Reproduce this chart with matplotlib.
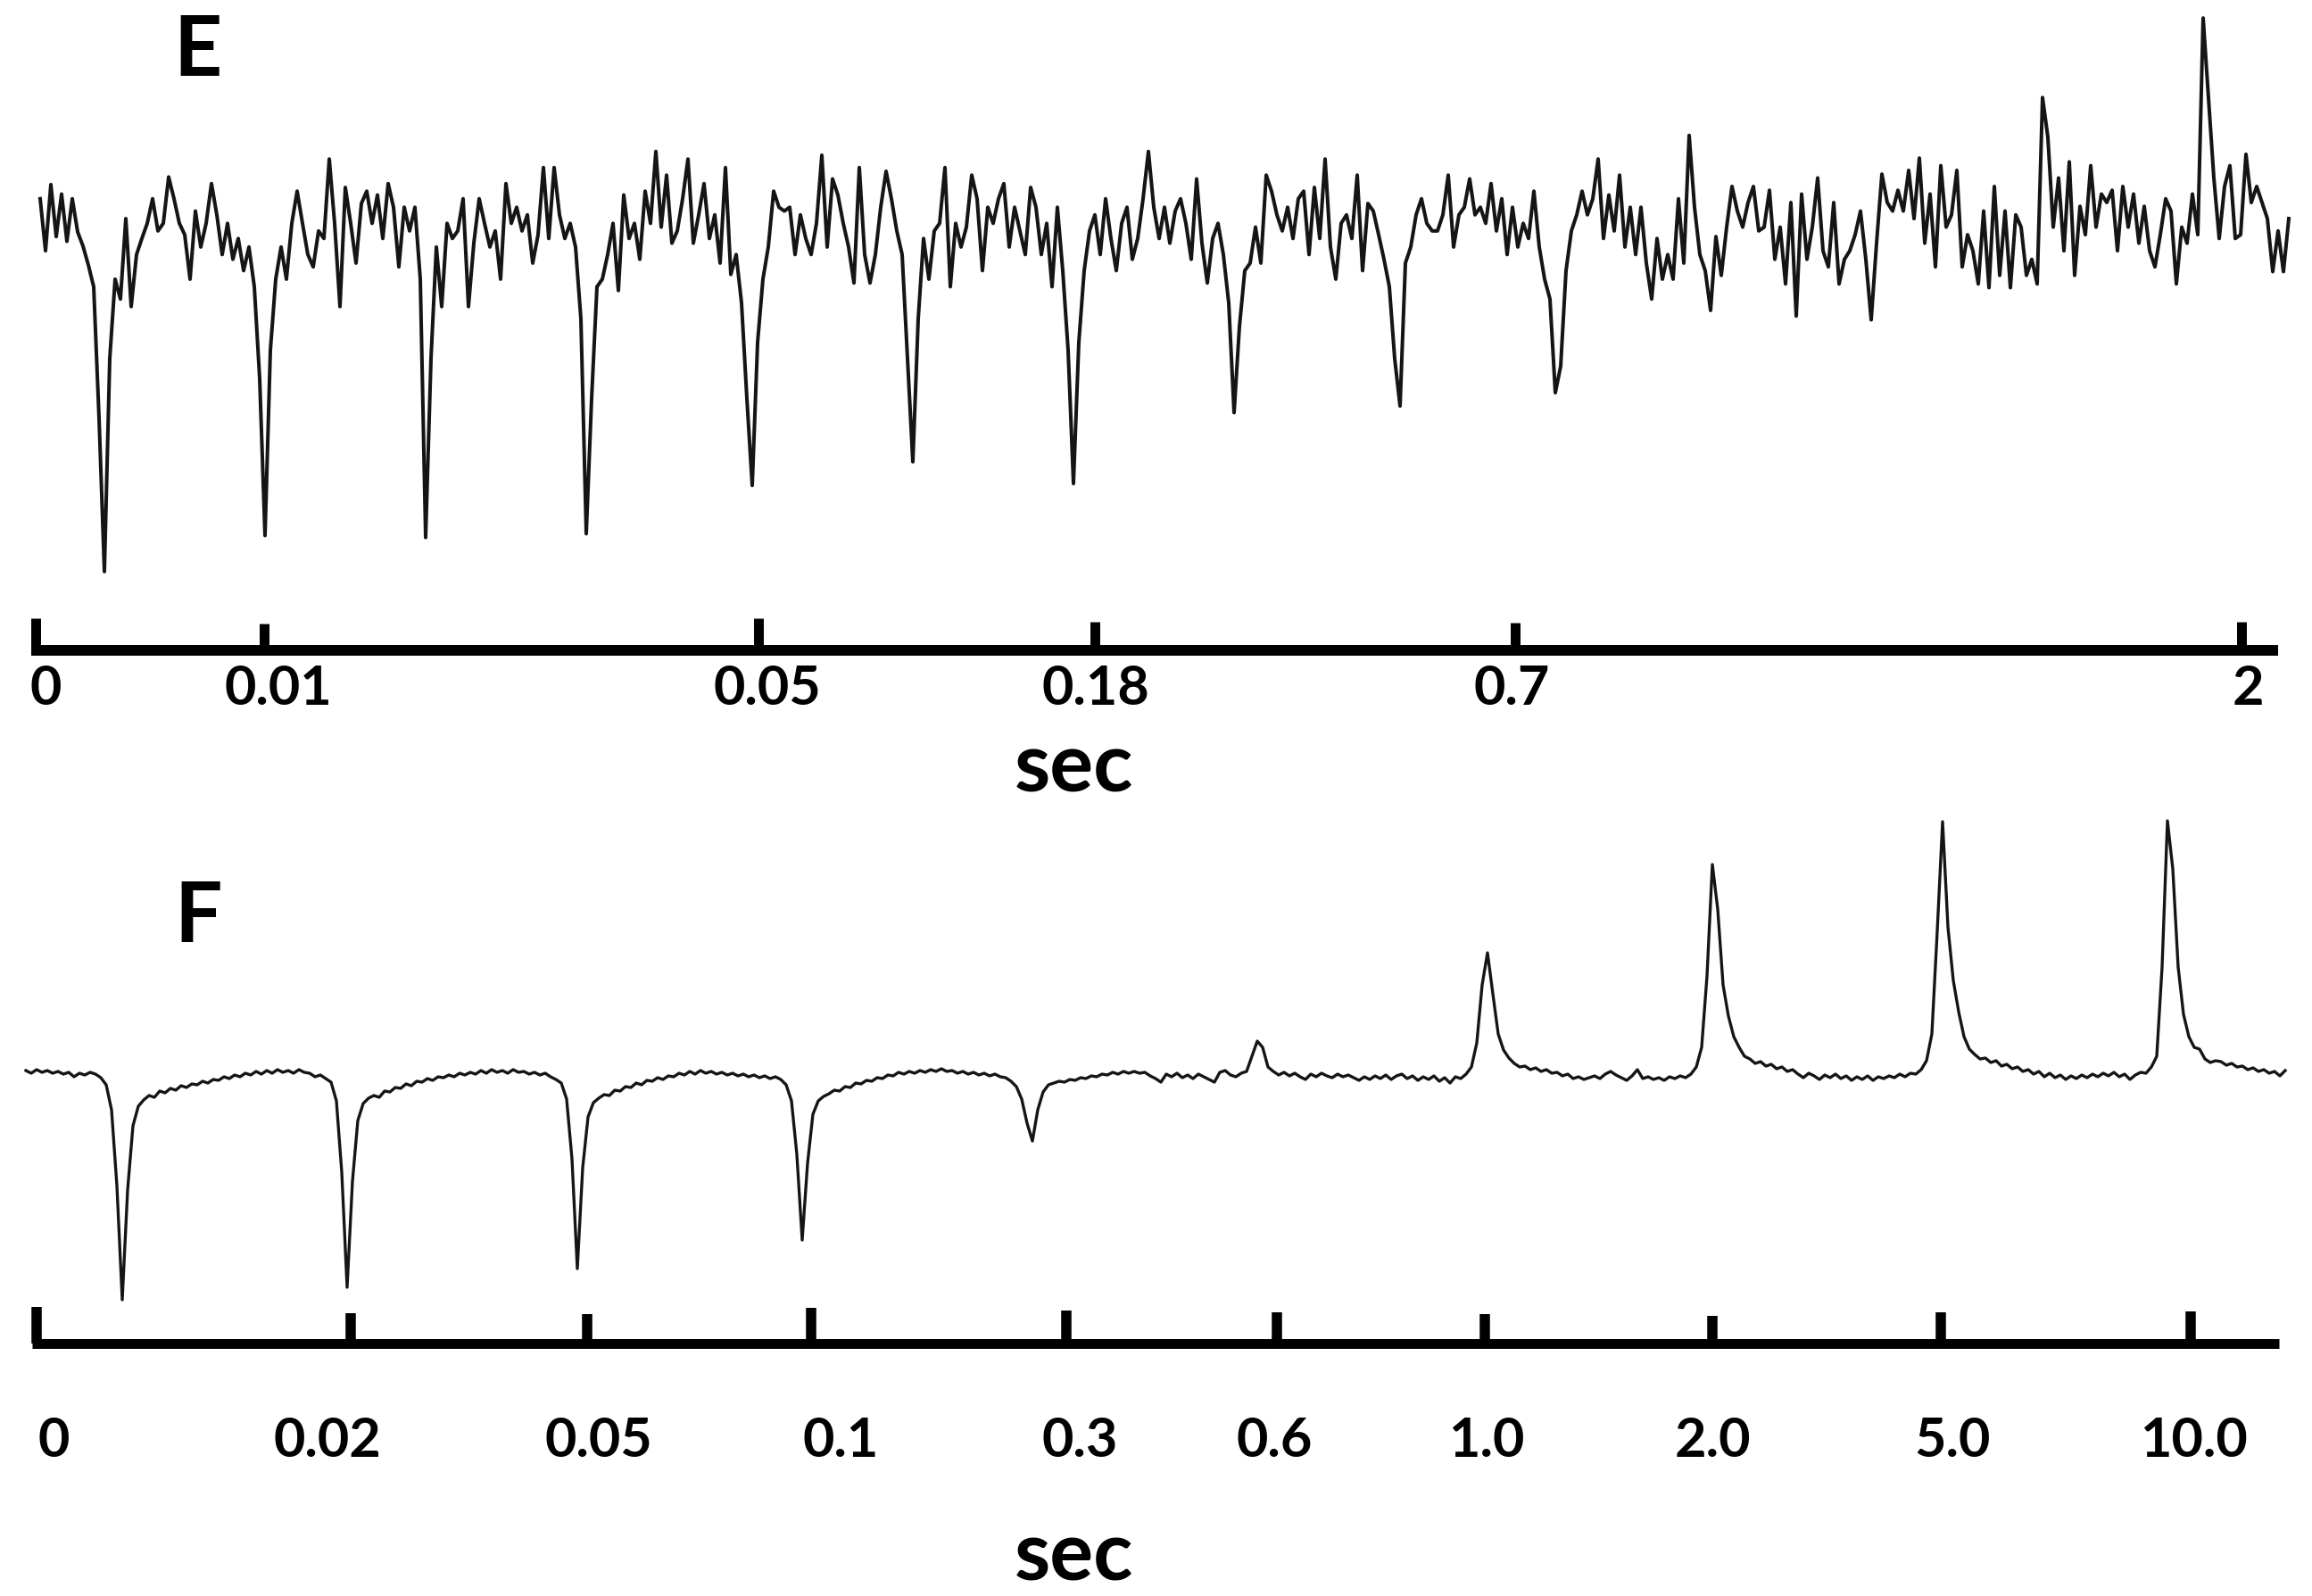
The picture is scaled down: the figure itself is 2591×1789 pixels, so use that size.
import numpy as np
import matplotlib
matplotlib.use("Agg")
import matplotlib.pyplot as plt

# Panel E trace: amplitude (px, up = positive), one sample every 6 px of the time base
E_AMP = [
    30, -25, 45, -10, 35, -15, 30, -5, -20, -40,
    -63, -202, -364, -139, -55, -76, 9, -84, -29, -12,
    4, 30, -4, 4, 53, 30, 4, -8, -55, 17,
    -21, 4, 46, 13, -29, 4, -34, -12, -46, -21,
    -63, -160, -326, -130, -55, -21, -55, 4, 38, 4,
    -29, -42, -4, -12, 72, 4, -84, 42, 4, -38,
    25, 38, 4, 34, -12, 46, 21, -42, 21, -4,
    21, -55, -328, -139, -21, -84, 4, -12, -4, 30,
    -84, -17, 30, 4, -21, -4, -55, 46, 4, 21,
    -4, 13, -38, -8, 63, -12, 63, 13, -12, 4,
    -21, -97, -324, -181, -63, -55, -29, 4, -67, 34,
    -12, 4, -34, 38, 4, 80, 0, 55, -17, -4,
    30, 72, -17, 13, 46, -12, 13, -38, 63, -50,
    -29, -80, -181, -273, -122, -55, -21, 38, 21, 17,
    21, -29, 13, -12, -29, 4, 76, -21, 51, 34,
    4, -21, -59, 63, -29, -59, -29, 21, 59, 30,
    -4, -29, -139, -248, -97, -12, -55, -4, 4, 63,
    -63, 4, -21, 0, 55, 30, -46, 21, 4, 30,
    46, -21, 21, -4, -29, 42, 21, -29, 4, -63,
    21, -46, -130, -271, -122, -46, -4, 13, -29, 30,
    -12, -46, 4, 21, -34, -12, 30, 80, 21, -12,
    21, -17, 17, 30, 4, -34, 51, -17, -59, -12,
    4, -29, -80, -196, -105, -46, -38, 0, -38, 55,
    38, 13, -4, 21, -12, 30, 38, -29, 42, -12,
    72, -21, -55, 4, 13, -12, 55, -46, 25, 17,
    -8, -34, -63, -139, -189, -38, -21, 13, 30, 4,
    -4, -4, 13, 55, -21, 13, 21, 51, 13, 21,
    4, 46, -4, 30, -29, 21, -21, 4, -12, 38,
    -21, -55, -76, -175, -147, -46, -4, 13, 38, 13,
    30, 72, -12, 34, -4, 55, -21, 21, -29, 21,
    -38, -76, -12, -55, -29, -55, 30, -38, 97, 21,
    -29, -46, -88, -10, -51, 0, 43, 17, 0, 26,
    43, -4, 0, 39, -34, 0, -60, 26, -94, 35,
    -34, 0, 52, -25, -42, 26, -60, -34, -25, -8,
    17, -34, -98, -17, 56, 26, 17, 39, 17, 60,
    9, 73, -17, 35, -42, 65, 0, 13, 60, -42,
    -8, -25, -60, 17, -64, 43, -51, 17, -64, 13,
    0, -51, -34, -60, 137, 95, 0, 52, -25, 69,
    -51, 22, -8, 65, 0, 35, 26, 39, -25, 43,
    0, 35, -17, 22, -25, -42, -8, 30, 17, -60,
    0, -17, 35, -8, 221, 137, 52, -12, 43, 65,
    -12, -8, 77, 26, 43, 26, 9, -47, -4, -47,
    9,
]

# Panel F trace: amplitude (px, up = positive), one sample every 6 px of the time base
F_AMP = [
    4, 1, 5, 2, 4, 1, 3, 0, 2, -3,
    1, -1, 2, 0, -4, -12, -40, -125, -253, -130,
    -58, -36, -29, -24, -26, -19, -21, -16, -18, -13,
    -15, -11, -12, -8, -10, -6, -7, -3, -5, -1,
    -3, 1, -1, 3, 0, 4, 1, 5, 2, 4,
    1, 5, 2, 1, -3, -1, -5, -9, -30, -110,
    -239, -120, -52, -33, -27, -24, -26, -19, -20, -15,
    -16, -11, -13, -8, -9, -5, -7, -3, -4, -1,
    -3, 1, -1, 2, 0, 4, 1, 5, 2, 4,
    1, 5, 2, 3, 0, 2, -1, 1, -3, -6,
    -10, -28, -95, -218, -105, -48, -32, -27, -23, -24,
    -18, -19, -14, -15, -10, -12, -7, -8, -4, -6,
    -2, -3, 1, -1, 3, 0, 4, 1, 3, 0,
    2, -1, 1, -2, 0, -3, -1, -4, -2, -5,
    -3, -6, -12, -30, -90, -186, -100, -45, -30, -25,
    -22, -18, -19, -14, -15, -10, -11, -7, -8, -4,
    -5, -1, -2, 2, 0, 3, 1, 4, 2, 5,
    3, 6, 3, 4, 1, 3, 0, 2, -1, 1,
    -2, 0, -3, -4, -8, -14, -28, -55, -75, -40,
    -20, -12, -10, -8, -9, -6, -7, -4, -5, -2,
    -3, 0, -1, 2, 0, 3, 1, 3, 1, 2,
    -2, -5, -9, 0, -3, 1, -4, -1, -5, 0,
    -3, -6, -9, 2, 4, -1, -3, 1, 3, 20,
    37, 30, 8, 3, -1, 2, -2, 1, -3, -6,
    0, -3, 1, -2, -4, 0, -3, -1, -4, -7,
    -3, -6, -2, -5, -1, -6, -2, 0, -5, -2,
    -7, -3, -6, -2, -8, -4, -10, -3, -5, 0,
    8, 35, 100, 136, 90, 45, 27, 18, 12, 8,
    9, 5, 7, 3, 5, 1, 2, -2, 0, -5,
    -3, -6, -4, -2, -5, 0, 3, -1, -4, -7,
    -2, 5, -5, -3, -6, -4, -7, -3, -5, -2,
    -4, 0, 8, 30, 110, 235, 185, 100, 65, 42,
    30, 20, 17, 12, 14, 9, 11, 6, 8, 3,
    5, 0, -4, 1, -2, -6, -1, -4, 0, -5,
    -2, -7, -3, -6, -2, -7, -3, -5, -2, -4,
    0, -3, 1, 0, 5, 15, 45, 160, 283, 165,
    105, 70, 42, 28, 22, 17, 18, 13, 15, 9,
    11, 6, 8, 3, 5, 0, 3, -3, 1, -4,
    -1, -6, -2, -5, -1, -4, 0, -3, 1, -2,
    2, -3, 0, -6, -1, 2, 1, 8, 20, 120,
    284, 230, 120, 67, 42, 30, 28, 17, 13, 15,
    14, 10, 12, 8, 9, 5, 7, 3, 5, 1,
    3, -2, 4,
]

# time-base markers (px along the drawn scale bar) and their labels
E_TICK_POS = [40, 296, 850, 1227, 1698, 2512]
E_TICK_LABELS = ["0", "0.01", "0.05", "0.18", "0.7", "2"]
F_TICK_POS = [41, 393, 658, 909, 1195, 1431, 1664, 1919, 2175, 2455]
F_TICK_LABELS = ["0", "0.02", "0.05", "0.1", "0.3", "0.6", "1.0", "2.0", "5.0", "10.0"]

W, H = 2591, 1789
FONT = "Lato"


def trace_axes(fig, zero_row, px_per_unit):
    """Transparent full-figure axes where amplitude 0 sits at pixel row zero_row."""
    ax = fig.add_axes([0, 0, 1, 1])
    ax.set_xlim(0, W)
    ax.set_ylim((zero_row - H) / px_per_unit, zero_row / px_per_unit)
    ax.patch.set_alpha(0)
    ax.axis("off")
    return ax


def draw_scale(ax, x0, x1, y, ticks, tops, labels, label_x, label_y, bar_lw, tick_lw):
    ax.plot([x0, x1], [y, y], color="black", lw=bar_lw, solid_capstyle="butt")
    ax.vlines(ticks, tops, y, color="black", lw=tick_lw, capstyle="butt")
    for lx, s in zip(label_x, labels):
        ax.text(lx, label_y, s, ha="center", va="baseline", fontsize=44,
                fontweight="bold", family=FONT)


def main():
    fig = plt.figure(figsize=(W / 100, H / 100), dpi=100)
    fig.patch.set_facecolor("white")

    ax_px = fig.add_axes([0, 0, 1, 1])
    ax_px.set_xlim(0, W)
    ax_px.set_ylim(H, 0)
    ax_px.axis("off")

    # traces
    ax_e = trace_axes(fig, 254.6, 1.0607)
    e_x = 45 + 6 * np.arange(len(E_AMP))
    ax_e.plot(e_x, E_AMP, color="#151515", lw=2.9, solid_joinstyle="round")

    ax_f = trace_axes(fig, 1204, 1.0)
    f_x = 29 + 6 * np.arange(len(F_AMP))
    ax_f.plot(f_x, F_AMP, color="#151515", lw=2.4, solid_joinstyle="round")

    # time scales
    draw_scale(ax_px, 35, 2553, 729, E_TICK_POS, [693, 699, 693, 697, 698, 697],
               E_TICK_LABELS, [51, 312, 860, 1228, 1694, 2519], 790, 8.6, 7.9)
    draw_scale(ax_px, 36, 2554, 1505.5, F_TICK_POS,
               [1465, 1472, 1473, 1466, 1469, 1471, 1473, 1475, 1471, 1470],
               F_TICK_LABELS, [60, 367, 671, 942, 1210, 1428, 1666, 1919, 2188, 2458],
               1633, 7.9, 8.3)

    for y in (887, 1772):
        ax_px.text(1203, y, "sec", ha="center", va="baseline", fontsize=66,
                   fontweight="bold", family=FONT)
    ax_px.text(222, 85, "E", ha="center", va="baseline", fontsize=68,
               fontweight="bold", family=FONT)
    ax_px.text(222, 1056, "F", ha="center", va="baseline", fontsize=68,
               fontweight="bold", family=FONT)

    fig.savefig("out.png", dpi=100, facecolor="white")
    plt.close(fig)


if __name__ == "__main__":
    main()
